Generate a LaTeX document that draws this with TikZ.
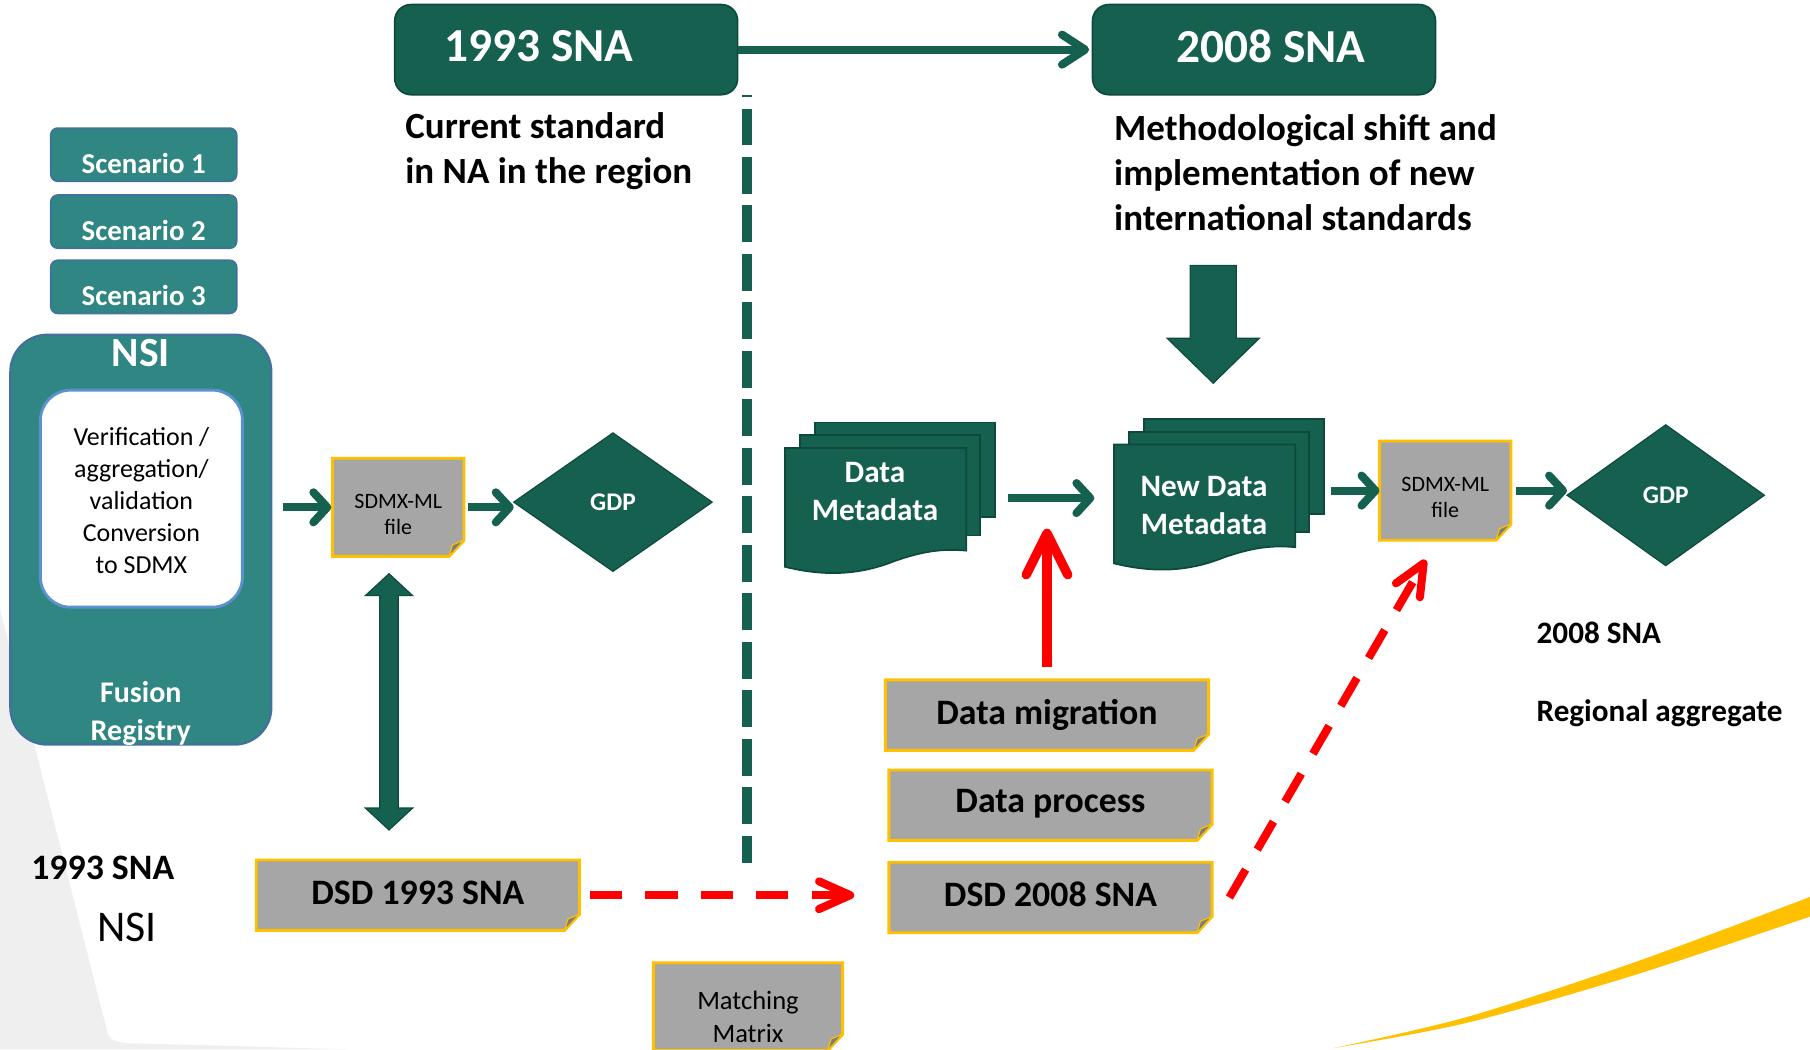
\documentclass[tikz,border=0pt]{standalone}
\usepackage{fontspec}
\setmainfont{Carlito}
\usetikzlibrary{arrows.meta,shapes.geometric,calc}
\definecolor{dkg}{RGB}{22,96,80}
\definecolor{dkgb}{RGB}{14,74,60}
\definecolor{teal1}{RGB}{47,134,130}
\definecolor{tealb}{RGB}{65,113,156}
\definecolor{innerb}{RGB}{91,145,205}
\definecolor{fgrey}{RGB}{166,166,166}
\definecolor{foldc}{RGB}{125,125,125}
\definecolor{gold}{RGB}{255,192,0}
\definecolor{bggrey}{RGB}{239,239,239}
\definecolor{rred}{RGB}{255,0,0}
\newcommand\fsz[2]{\fontsize{#1}{#2}\selectfont}
% name, x1, y1, x2, y2, font, text offset (down), text
\newcommand\docbox[8]{%
  \filldraw[docframe] (#2,#3) -- (#4,#3) -- (#4,#5-14) -- (#4-13,#5) -- (#2,#5) -- cycle;
  \filldraw[docfold] (#4-13,#5) -- (#4-10,#5-10) -- (#4,#5-14) -- cycle;
  \node[helper,minimum width={#4-#2},minimum height={#5-#3}] (#1) at ({(#2+#4)/2},{(#3+#5)/2}) {};
  \node[doctext,font=#6] (#1t) at ({(#2+#4)/2},{(#3+#5)/2+#7}) {#8};
}
% front-page top-left corner x0, y0
\newcommand\multidoc[2]{%
  \draw[mdoc] (#1+26,#2-22) rectangle (#1+182,#2+60);
  \draw[mdoc] (#1+13,#2-11) rectangle (#1+169,#2+76);
  \draw[mdoc] (#1,#2) -- (#1+157,#2) -- (#1+157,#2+89)
     .. controls (#1+135,#2+87) and (#1+118,#2+90) .. (#1+95,#2+98)
     .. controls (#1+70,#2+108) and (#1+40,#2+113) .. (#1,#2+103) -- cycle;
}
\begin{document}
\begin{tikzpicture}[x=1pt,y=-1pt,
  sna/.style={fill=dkg,draw=dkgb,line width=1.5pt,rounded corners=14pt,minimum width=297,minimum height=78,inner sep=0,outer sep=0},
  snatext/.style={text=white,inner sep=0,font=\fsz{41}{41}\bfseries},
  desc/.style={anchor=west,align=left,text=black,font=\fsz{32}{39}\bfseries,inner sep=0},
  scbox/.style={fill=teal1,draw=tealb,line width=1.5pt,rounded corners=6pt,minimum width=161,minimum height=46,inner sep=0,outer sep=0},
  sctext/.style={text=white,font=\fsz{25}{25}\bfseries,inner sep=0},
  nsibox/.style={fill=teal1,draw=tealb,line width=2pt,rounded corners=32pt,minimum width=226,minimum height=355,inner sep=0,outer sep=0},
  innerbox/.style={fill=white,draw=innerb,line width=2.5pt,rounded corners=26pt,minimum width=175,minimum height=188,inner sep=0,outer sep=0},
  innertext/.style={inner sep=0,align=center,text=black,font=\fsz{22.5}{27.75}},
  wtext/.style={text=white,inner sep=0,align=center},
  gdp/.style={diamond,fill=dkg,draw=dkgb,line width=1pt,inner sep=0,outer sep=0,text=white,font=\fsz{22}{22}\bfseries},
  docframe/.style={fill=fgrey,draw=gold,line width=2.5pt,line join=miter},
  docfold/.style={fill=foldc,draw=gold,line width=1pt,line join=round},
  doctext/.style={inner sep=0,outer sep=0,align=center,text=black},
  mdoc/.style={fill=dkg,draw=dkgb,line width=1.5pt},
  mdtext/.style={text=white,inner sep=0,align=center,font=\fsz{27}{33}\bfseries},
  helper/.style={inner sep=0,outer sep=0},
  plaintext/.style={text=black,inner sep=0},
  garrow/.style={draw=dkg,line width=7pt,-{Straight Barb[length=12pt,width=26pt,round]}},
  garrowL/.style={draw=dkg,line width=7pt,-{Straight Barb[length=20pt,width=26pt,round]}},
  blockarrow/.style={fill=dkg,draw=dkgb,line width=1pt,line join=miter},
  rarrow/.style={draw=rred,line width=8pt,-{Straight Barb[length=36pt,width=36pt,round]}},
  rdash/.style={draw=rred,line width=7pt,dash pattern=on 28pt off 20pt,-{Straight Barb[length=27pt,width=24pt,round]}},
  gdash/.style={draw=dkg,line width=9pt,dash pattern=on 32pt off 10pt,dash phase=30pt}
]
\useasboundingbox (0,0) rectangle (1568,909);

% background decorations
\fill[bggrey] (0,528) -- (93,894) .. controls (96,903) and (102,904) .. (125,904) -- (300,909) -- (0,909) -- cycle;
\fill[gold] plot[smooth] coordinates {(1568,777) (1415,834) (1271,881) (1155,908)}
   -- plot[smooth] coordinates {(1155,908) (1271,886) (1415,845) (1568,794)} -- cycle;

% top boxes
\node[sna] (sna93) at (490.5,43) {};
\node[snatext] (sna93t) at (467,40) {1993 SNA};
\node[sna] (sna08) at (1095,43) {};
\node[snatext] (sna08t) at (1101,40) {2008 SNA};
\draw[garrowL, shorten >=3pt] (sna93.east) -- (sna08.west);

\node[desc] (cur) at (351,131) {Current standard\\in NA in the region};
\node[desc] (meth) at (965,150) {Methodological shift and\\implementation of new\\international standards};

% divider
\coordinate (vtop) at (647,82);
\coordinate (vbot) at (647,748);
\draw[gdash] (vtop) -- (vbot);

% scenarios
\node[scbox] (sc1) at (124.5,134) {};
\node[sctext] (sc1t) at (124.5,142) {Scenario 1};
\node[scbox] (sc2) at (124.5,192) {};
\node[sctext] (sc2t) at (124.5,200) {Scenario 2};
\node[scbox] (sc3) at (124.5,248.5) {};
\node[sctext] (sc3t) at (124.5,256) {Scenario 3};

% NSI block
\node[nsibox] (nsi) at (122,467.5) {};
\node[wtext,font=\fsz{36}{36}\bfseries] (nsit) at (122,306) {NSI};
\node[innerbox] (verif) at (122.5,432) {};
\node[innertext] (veriftext) at (122.5,434) {Verification /\\aggregation/\\validation\\Conversion\\to SDMX};
\node[wtext,font=\fsz{26}{33}\bfseries] (fusion) at (122,618) {Fusion\\Registry};

% file boxes
\docbox{sdmx1}{288}{397}{402}{482}{\fsz{19}{23}}{6}{SDMX-ML\\file}
\docbox{sdmx2}{1195}{382}{1309}{468}{\fsz{19}{23}}{6}{SDMX-ML\\file}
\docbox{dsd93}{222}{745}{502}{806}{\fsz{31}{31}\bfseries}{-2}{DSD 1993 SNA}
\docbox{dmig}{767}{589}{1047}{650}{\fsz{31}{31}\bfseries}{0}{Data migration}
\docbox{dproc}{770}{667}{1050}{728}{\fsz{31}{31}\bfseries}{-1}{Data process}
\docbox{dsd08}{770}{747}{1050}{808}{\fsz{31}{31}\bfseries}{-3}{DSD 2008 SNA}
\docbox{mm}{566}{834}{730}{910}{\fsz{23}{29}}{9}{Matching\\Matrix}

% GDP diamonds
\node[gdp,minimum width=172,minimum height=120] (gdp1) at (531,435) {GDP};
\node[gdp,minimum width=171,minimum height=122] (gdp2) at (1443,429) {GDP};

% multi-document shapes
\multidoc{680}{388}
\node[helper,minimum width=182,minimum height=131] (dm) at (771,431.5) {};
\node[mdtext] (dmt) at (758,425.5) {Data\\Metadata};
\multidoc{965}{385}
\node[helper,minimum width=182,minimum height=131] (ndm) at (1056,428.5) {};
\node[mdtext] (ndmt) at (1043,438) {New Data\\Metadata};

% block arrows
\draw[blockarrow] (1031,230) -- (1071,230) -- (1071,293) -- (1091,293) -- (1051,332) -- (1011,293) -- (1031,293) -- cycle;
\draw[blockarrow] (337,497) -- (357.5,516) -- (345,516) -- (345,700) -- (357.5,700) -- (337,719)
   -- (316.5,700) -- (329,700) -- (329,516) -- (316.5,516) -- cycle;

% green connectors
\draw[garrow, shorten <=10pt, shorten >=1pt] (sdmx1.west -| nsi.east) -- (sdmx1.west);
\draw[garrow, shorten <=3pt] (sdmx1.east) -- (sdmx1.east -| gdp1.west);
\draw[garrow, shorten <=11pt, shorten >=17pt] (dm.east) -- (dm.east -| ndm.west);
\draw[garrow, shorten <=6pt] (sdmx2.west -| ndm.east) -- (sdmx2.west);
\draw[garrow, shorten <=4pt] (sdmx2.east) -- (sdmx2.east -| gdp2.west);

% red connectors
\coordinate (rtip) at (907,458);
\draw[rarrow] ([yshift=11pt]dmig.north) -- (rtip);
\draw[rdash, shorten <=9pt, shorten >=30pt] (dsd93.east) -- (dsd93.east -| dsd08.west);
\coordinate (dtip) at (1235,485);
\draw[rdash] ([xshift=15pt]dsd08.east) -- (dtip);

% free labels
\node[plaintext,font=\fsz{31}{31}\bfseries] (l93) at (89,752) {1993 SNA};
\node[plaintext,font=\fsz{38}{38}] (lnsi) at (110,803) {NSI};
\node[plaintext,anchor=west,font=\fsz{27}{27}\bfseries] (l08) at (1331,548) {2008 SNA};
\node[plaintext,anchor=west,font=\fsz{27}{27}\bfseries] (lreg) at (1331,618) {Regional aggregate};
\end{tikzpicture}
\end{document}
